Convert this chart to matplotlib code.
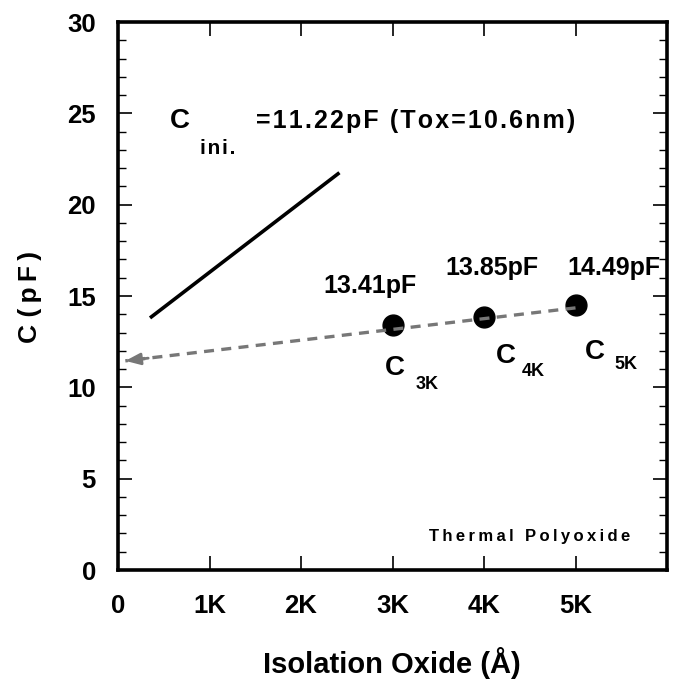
import matplotlib
matplotlib.use("Agg")
import matplotlib.pyplot as plt
from matplotlib.ticker import MultipleLocator

plt.rcParams['font.family'] = ['Liberation Sans', 'DejaVu Sans']
plt.rcParams['font.weight'] = 'bold'

# Data
iso_oxide = [3000, 4000, 5000]
cap_values = [13.41, 13.85, 14.49]
point_labels = ["13.41pF", "13.85pF", "14.49pF"]
sub_labels = ["3K", "4K", "5K"]
solid_line_x = [350, 2420]
solid_line_y = [13.8, 21.75]
trend_x = [5000, 80]
trend_y = [14.35, 11.45]
xtick_vals = [0, 1000, 2000, 3000, 4000, 5000]
xtick_labels = ["0", "1K", "2K", "3K", "4K", "5K"]
ytick_vals = [0, 5, 10, 15, 20, 25, 30]

fig = plt.figure(figsize=(6.77, 6.81), dpi=100)
ax = fig.add_axes([118/677, 1-570/681, (667-118)/677, (570-22)/681])

ax.set_xlim(0, 6000)
ax.set_ylim(0, 30)

# solid black line
ax.plot(solid_line_x, solid_line_y, color='black', lw=2.6, solid_capstyle='butt')

# points
ax.plot(iso_oxide, cap_values, 'o', color='black', ms=15, zorder=1)

# dashed trend line with arrow head
ax.plot(trend_x, trend_y, color='#777777', lw=2.4, dashes=(3, 2.2), zorder=2)
slope = (trend_y[0]-trend_y[1])/(trend_x[0]-trend_x[1])
ax.annotate('', xy=(trend_x[1], trend_y[1]),
            xytext=(trend_x[1] + 250, trend_y[1] + 250*slope),
            arrowprops=dict(arrowstyle='-|>,head_length=0.9,head_width=0.35', color='#777777', lw=2.0,
                            shrinkA=0, shrinkB=0))

def fig_txt(x, y, s, size, **kw):
    fig.text(x/677, 1-y/681, s, fontsize=size, fontweight='bold', **kw)

HS = "\u200a"
TS = "\u2009"

# point labels
label_pos = [(370, 286), (492, 268), (614, 268)]
for (px, py), t in zip(label_pos, point_labels):
    fig_txt(px, py, t, 18, ha='center', va='center')

c_pos = [(395, 368), (506, 356), (595, 352)]
s_pos = [(427, 384), (533, 371), (626, 365)]
for (cx, cy), (sx, sy), s in zip(c_pos, s_pos, sub_labels):
    fig_txt(cx, cy, "C", 20, ha='center', va='center')
    fig_txt(sx, sy, s, 13, ha='center', va='center')

fig_txt(180, 121, "C", 20, ha='center', va='center')
fig_txt(218, 148, HS.join("ini."), 15, ha='center', va='center')
fig_txt(416, 121, HS.join("=11.22pF (Tox=10.6nm)"), 18, ha='center', va='center')
fig_txt(530, 536, TS.join("Thermal Polyoxide"), 12, ha='center', va='center')

# ticks
ax.set_xticks(xtick_vals)
ax.set_xticklabels(xtick_labels)
ax.set_yticks(ytick_vals)
ax.yaxis.set_minor_locator(MultipleLocator(1))
ax.tick_params(axis='both', which='major', direction='in', length=10, width=1.2,
               labelsize=18.5, top=True, right=True)
ax.tick_params(axis='y', which='minor', direction='in', length=6, width=1.0, right=True, left=True)
ax.tick_params(axis='x', which='major', pad=17)
ax.tick_params(axis='y', which='major', pad=16)
for lab in ax.get_xticklabels() + ax.get_yticklabels():
    lab.set_fontweight('bold')

for sp in ax.spines.values():
    sp.set_linewidth(2.6)

ylab = "C (" + TS + "p" + TS + "F" + TS + ")"
fig.text(30/677, 1-297/681, ylab, rotation=90, fontsize=19, fontweight='bold', ha='center', va='center')
fig.text(392/677, 1-663/681, "Isolation Oxide (Å)", fontsize=21, fontweight='bold', ha='center', va='center')

fig.savefig("out.png", dpi=100)
